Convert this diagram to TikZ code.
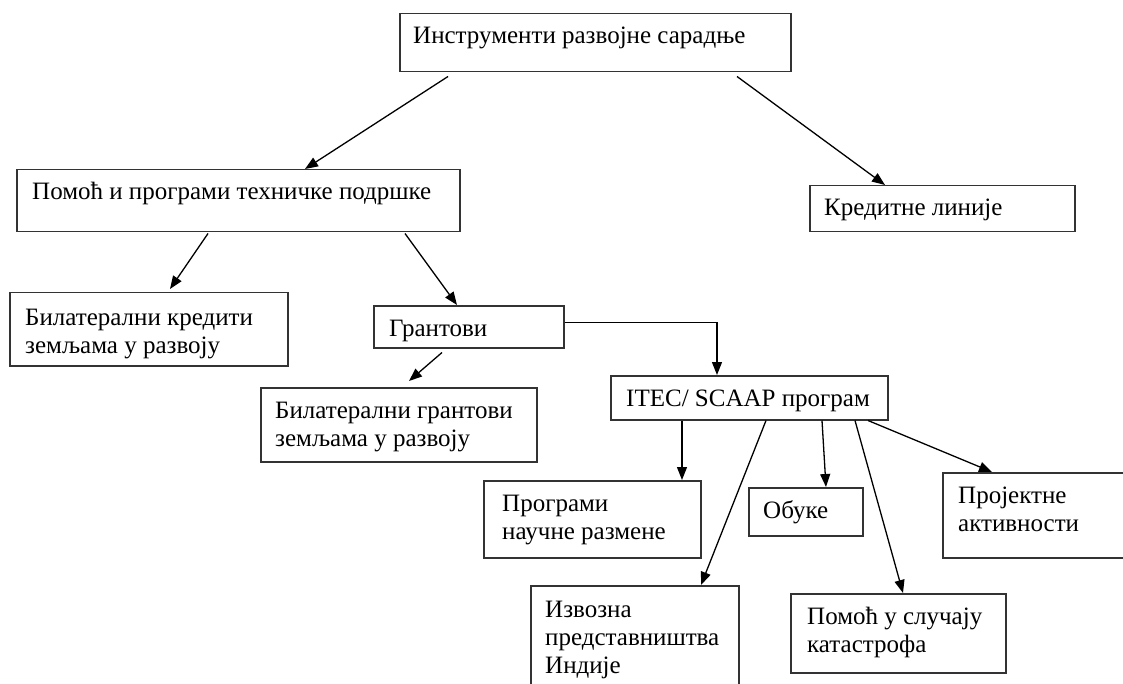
\documentclass[tikz,border=0pt]{standalone}
\usepackage{fontspec}
\setmainfont{Liberation Serif}
\usetikzlibrary{arrows.meta}

\definecolor{boxgray}{HTML}{333333}

\begin{document}
\begin{tikzpicture}[x=1pt, y=-1pt,
  box/.style={draw=boxgray, line width=1.5pt, anchor=north west, inner sep=0pt},
  txt/.style={anchor=base west, inner sep=0pt, align=left,
    font=\fontsize{25}{28}\selectfont, xshift=16pt, yshift=-31pt},
  twolines/.style={yshift=-28pt},
  threelines/.style={yshift=-56pt},
  link/.style={line width=1.3pt, -{Triangle[length=13pt, width=10pt]}}]
\useasboundingbox (0,0) rectangle (1123,684);

\node (instr) [box, minimum width=391pt, minimum height=58pt,
  label={[txt, xshift=-2pt]north west:{Инструменти развојне сарадње}}] at (399,13) {};
\node (help) [box, minimum width=443pt, minimum height=62pt,
  label={[txt]north west:{Помоћ и програми техничке подршке}}] at (16,169) {};
\node (credit) [box, minimum width=265pt, minimum height=46pt,
  label={[txt, xshift=-1pt]north west:{Кредитне линије}}] at (809,185) {};
\node (bilcred) [box, minimum width=278pt, minimum height=73pt,
  label={[txt, twolines, yshift=-2pt]north west:{Билатерални кредити\\земљама у развоју}}] at (9,292) {};
\node (grants) [box, minimum width=190pt, minimum height=42pt,
  label={[txt]north west:{Грантови}}] at (373,305) {};
\node (bilgrant) [box, minimum width=276pt, minimum height=74pt,
  label={[txt, twolines, xshift=-1pt]north west:{Билатерални грантови\\земљама у развоју}}] at (260,387) {};
\node (itec) [box, minimum width=277pt, minimum height=44pt,
  label={[txt]north west:{ITEC/ SCAAP програм}}] at (610,375) {};
\node (sci) [box, minimum width=217pt, minimum height=77pt,
  label={[txt, twolines, xshift=3pt]north west:{Програми\\научне размене}}] at (483,480) {};
\node (train) [box, minimum width=114pt, minimum height=48pt,
  label={[txt, xshift=-1pt]north west:{Обуке}}] at (748,487) {};
\node (proj) [box, minimum width=200pt, minimum height=85pt,
  label={[txt, twolines]north west:{Пројектне\\активности}}] at (942,472) {};
\node (export) [box, minimum width=208pt, minimum height=110pt,
  label={[txt, threelines, xshift=-1pt, yshift=-1pt]north west:{Извозна\\представништва\\Индије}}] at (530,585) {};
\node (disaster) [box, minimum width=215pt, minimum height=79pt,
  label={[txt, twolines, xshift=1pt]north west:{Помоћ у случају\\катастрофа}}] at (790,593) {};

\draw [link] ([xshift=49pt, yshift=-4pt]instr.south west) -- ([xshift=289pt]help.north west);
\draw [link] ([xshift=338pt, yshift=-4pt]instr.south west) -- ([xshift=76pt]credit.north west);
\draw [link] ([xshift=192pt, yshift=-1pt]help.south west) -- ([xshift=161pt, yshift=3pt]bilcred.north west);
\draw [link] ([xshift=389pt, yshift=-1pt]help.south west) -- ([xshift=84pt]grants.north west);
\draw [link] ([xshift=69pt, yshift=-4pt]grants.south west) -- ([xshift=149pt, yshift=6pt]bilgrant.north west);
\draw [link] ([yshift=4pt]grants.east) -| ([xshift=107pt]itec.north west);
\draw [link] ([xshift=72pt]itec.south west) -- ([xshift=72pt]itec.south west |- sci.north);
\draw [link] ([xshift=156pt]itec.south west) -- ([xshift=171pt]export.north west);
\draw [link] ([xshift=212pt]itec.south west) -- ([xshift=78pt]train.north west);
\draw [link] ([xshift=245pt]itec.south west) -- ([xshift=113pt]disaster.north west);
\draw [link] ([xshift=258pt]itec.south west) -- ([xshift=50pt]proj.north west);
\end{tikzpicture}
\end{document}
